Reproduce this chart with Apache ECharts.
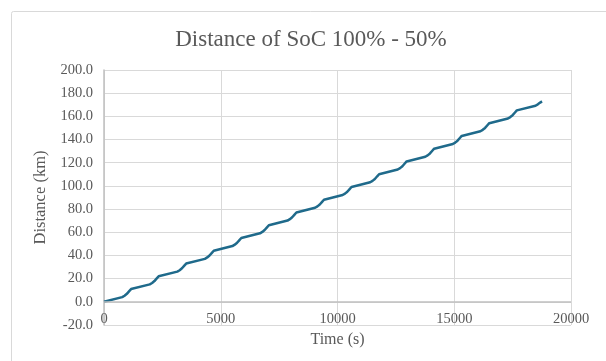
<!DOCTYPE html>
<html><head><meta charset="utf-8">
<script src="https://cdn.jsdelivr.net/npm/echarts@6/dist/echarts.min.js"></script>
<style>html,body{margin:0;padding:0;background:#fff}#c{width:606px;height:361px}</style>
</head><body><div id="c"></div>
<script>
var titleText = 'Distance of SoC 100% - 50%';
var xName = 'Time (s)';
var yName = 'Distance (km)';
var timeS = [0,780,880,980,1080,1120,1160,
 1180,1960,2060,2160,2260,2300,2340,
 2360,3140,3240,3340,3440,3480,3520,
 3540,4320,4420,4520,4620,4660,4700,
 4720,5500,5600,5700,5800,5840,5880,
 5900,6680,6780,6880,6980,7020,7060,
 7080,7860,7960,8060,8160,8200,8240,
 8260,9040,9140,9240,9340,9380,9420,
 9440,10220,10320,10420,10520,10560,10600,
 10620,11400,11500,11600,11700,11740,11780,
 11800,12580,12680,12780,12880,12920,12960,
 12980,13760,13860,13960,14060,14100,14140,
 14160,14940,15040,15140,15240,15280,15320,
 15340,16120,16220,16320,16420,16460,16500,
 16520,17300,17400,17500,17600,17640,17680,
 17700,18480,18580,18680,18760];
var distKm = [0,4.05,5.25,6.9,9.2,10.6,11.0,
 11.01,15.06,16.26,17.91,20.21,21.61,22.01,
 22.02,26.07,27.27,28.92,31.22,32.62,33.02,
 33.03,37.08,38.28,39.93,42.23,43.63,44.03,
 44.04,48.09,49.29,50.94,53.24,54.64,55.04,
 55.05,59.10,60.30,61.95,64.25,65.65,66.05,
 66.06,70.11,71.31,72.96,75.26,76.66,77.06,
 77.07,81.12,82.32,83.97,86.27,87.67,88.07,
 88.08,92.13,93.33,94.98,97.28,98.68,99.08,
 99.09,103.14,104.34,105.99,108.29,109.69,110.09,
 110.10,114.15,115.35,117.00,119.30,120.70,121.10,
 121.11,125.16,126.36,128.01,130.31,131.71,132.11,
 132.12,136.17,137.37,139.02,141.32,142.72,143.12,
 143.13,147.18,148.38,150.03,152.33,153.73,154.13,
 154.14,158.19,159.39,161.04,163.34,164.74,165.14,
 165.15,169.20,170.40,171.90,172.90];
var xTicks = {min:0, max:20000, step:5000};
var yTicks = {min:-20, max:200, step:20};

var font = '"Liberation Serif", "Times New Roman", serif';
var chart = echarts.init(document.getElementById('c'), null, {renderer:'canvas'});
var pts = timeS.map(function(t,i){return [t, distKm[i]];});
chart.setOption({
  animation:false,
  backgroundColor:'#fff',
  graphic:[{type:'rect', shape:{x:11.5,y:11.5,width:640,height:400,r:2}, style:{fill:'none',stroke:'#d9d9d9',lineWidth:1}, silent:true}],
  title:{text:titleText, left:306, top:23, textAlign:'center',
    textStyle:{fontFamily:font, fontSize:23, fontWeight:'normal', color:'#595959'}},
  grid:{left:104, right:35, top:70, bottom:36},
  xAxis:{type:'value', min:xTicks.min, max:xTicks.max, interval:xTicks.step,
    name:xName, nameLocation:'middle', nameGap:5,
    nameTextStyle:{fontFamily:font, fontSize:16, color:'#595959'},
    axisLine:{show:false, onZero:false}, axisTick:{show:false},
    axisLabel:{margin:-13, fontFamily:font, fontSize:14.5, color:'#595959',
      formatter:function(v){return String(v);}},
    splitLine:{show:true, lineStyle:{color:'#d9d9d9', width:1}}},
  yAxis:{type:'value', min:yTicks.min, max:yTicks.max, interval:yTicks.step,
    name:yName, nameLocation:'middle', nameGap:54,
    nameTextStyle:{fontFamily:font, fontSize:16.5, color:'#595959'},
    axisLine:{show:true, lineStyle:{color:'#bfbfbf', width:1.5}}, axisTick:{show:false},
    axisLabel:{margin:11, fontFamily:font, fontSize:14.5, color:'#595959',
      formatter:function(v){return v.toFixed(1);}},
    splitLine:{show:true, lineStyle:{color:'#d9d9d9', width:1}}},
  series:[{type:'line', data:pts, showSymbol:false, symbol:'none',
    lineStyle:{color:'#1f6a8b', width:2.5}, itemStyle:{color:'#1f6a8b'},
    markLine:{silent:true, symbol:['none','none'], label:{show:false},
      lineStyle:{color:'#bfbfbf', width:1.5, type:'solid'}, data:[{yAxis:0}]}}]
});
</script></body></html>
